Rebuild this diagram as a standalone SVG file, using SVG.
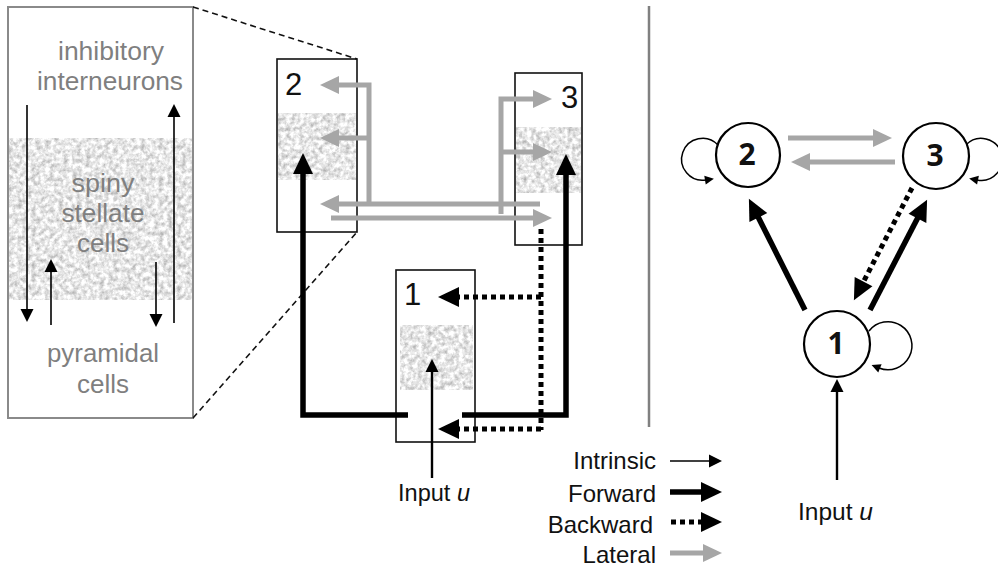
<svg xmlns="http://www.w3.org/2000/svg" width="998" height="572" viewBox="0 0 998 572">
<defs>
<style>
.lbl{font-family:"Liberation Sans",Arial,sans-serif;fill:#7f7f7f;font-size:25px;text-anchor:middle}
.txt{font-family:"Liberation Sans",Arial,sans-serif;fill:#111;font-size:24px}
.num{font-family:"Liberation Sans",Arial,sans-serif;fill:#111;font-size:31px}
.bnum{font-family:"Open Sans","Noto Sans",sans-serif;font-weight:bold;fill:#111;font-size:30px;text-anchor:middle}
.box{fill:none;stroke:#111;stroke-width:1.6}
.band{fill:#e2e2e2;filter:url(#tex)}
.lat{fill:none;stroke:#a6a6a6;stroke-width:5;marker-end:url(#hLat)}
.fwd{fill:none;stroke:#000;stroke-width:5.5;marker-end:url(#hFwd)}
.bwd{fill:none;stroke:#000;stroke-width:5;stroke-dasharray:5,4;marker-end:url(#hFwd)}
.thin{fill:none;stroke:#000;stroke-width:1.6;marker-end:url(#hThin)}
.inp{fill:none;stroke:#000;stroke-width:2.4;marker-end:url(#hThin)}
.loop{fill:none;stroke:#000;stroke-width:1.5;marker-end:url(#hLoop)}
.node{fill:#fff;stroke:#000;stroke-width:2.2}
</style>
<filter id="tex" x="0" y="0" width="100%" height="100%" color-interpolation-filters="sRGB">
<feTurbulence type="fractalNoise" baseFrequency="0.22" numOctaves="4" seed="4" result="n"/>
<feColorMatrix in="n" type="matrix" values="0.55 0 0 0 0.63 0.55 0 0 0 0.63 0.55 0 0 0 0.63 0 0 0 0 1" result="g"/>
<feComposite in="g" in2="SourceGraphic" operator="in"/>
</filter>
<marker id="hLat" markerUnits="userSpaceOnUse" markerWidth="20" markerHeight="18" refX="1" refY="9" orient="auto" overflow="visible"><path d="M0,0 L19,9 L0,18 z" fill="#a6a6a6"/></marker>
<marker id="hFwd" markerUnits="userSpaceOnUse" markerWidth="22" markerHeight="20" refX="1" refY="10" orient="auto" overflow="visible"><path d="M0,0 L21,10 L0,20 z" fill="#000"/></marker>
<marker id="hThin" markerUnits="userSpaceOnUse" markerWidth="14" markerHeight="13" refX="1" refY="6.5" orient="auto" overflow="visible"><path d="M0,0 L13,6.5 L0,13 z" fill="#000"/></marker>
<marker id="hLoop" markerUnits="userSpaceOnUse" markerWidth="10" markerHeight="9" refX="1" refY="4.5" orient="auto" overflow="visible"><path d="M0,0 L9,4.5 L0,9 z" fill="#000"/></marker>
</defs>
<rect width="998" height="572" fill="#fff"/>

<g id="layers-zoom">
<rect class="band" x="9" y="138" width="183" height="162"/>
<rect x="8" y="7" width="185" height="411" fill="none" stroke="#8a8a8a" stroke-width="2"/>
<text class="lbl" x="111" y="60" textLength="106" lengthAdjust="spacingAndGlyphs">inhibitory</text>
<text class="lbl" x="110" y="90" textLength="146" lengthAdjust="spacingAndGlyphs">interneurons</text>
<text class="lbl" x="103" y="192" textLength="63" lengthAdjust="spacingAndGlyphs">spiny</text>
<text class="lbl" x="103" y="222" textLength="83" lengthAdjust="spacingAndGlyphs">stellate</text>
<text class="lbl" x="103" y="252" textLength="52" lengthAdjust="spacingAndGlyphs">cells</text>
<text class="lbl" x="103" y="362" textLength="112" lengthAdjust="spacingAndGlyphs">pyramidal</text>
<text class="lbl" x="103" y="393" textLength="52" lengthAdjust="spacingAndGlyphs">cells</text>
<path class="thin" d="M27,105 V310"/>
<path class="thin" d="M51,325 V271"/>
<path class="thin" d="M156,262 V315"/>
<path class="thin" d="M174,323 V116"/>
<path d="M193,7 L357,59 M193,418 L357,232" fill="none" stroke="#111" stroke-width="1.6" stroke-dasharray="6,4"/>
</g>

<g id="node2-box">
<rect class="band" x="278" y="113" width="78" height="67"/>
<rect class="box" x="277" y="59" width="80" height="173"/>
<text class="num" x="285" y="95">2</text>
</g>
<g id="node3-box">
<rect class="band" x="516" y="127" width="65" height="66"/>
<rect class="box" x="515" y="73" width="67" height="172"/>
<text class="num" x="561" y="108">3</text>
</g>
<g id="node1-box">
<rect class="band" x="400" y="325" width="73" height="65"/>
<rect class="box" x="396" y="270" width="79" height="172"/>
<text class="num" x="404" y="305">1</text>
</g>

<g id="connectors-middle">
<path class="lat" d="M369,203 V85 H338"/>
<path class="lat" d="M369,138 H338"/>
<path class="lat" d="M540,204 H338"/>
<path class="lat" d="M501,214 V99 H534"/>
<path class="lat" d="M501,152 H534"/>
<path class="lat" d="M331,218 H534"/>
<path class="fwd" d="M408,415 H303 V173"/>
<path class="fwd" d="M462,415 H566 V174"/>
<path d="M541,229 V430" fill="none" stroke="#000" stroke-width="5" stroke-dasharray="5,4"/>
<path class="bwd" d="M541,297 H458"/>
<path class="bwd" d="M541,429 H458"/>
<path class="inp" d="M432,478 V371"/>
</g>
<text class="txt" x="398" y="501" font-size="21" textLength="72" lengthAdjust="spacingAndGlyphs">Input <tspan font-style="italic">u</tspan></text>

<g id="legend">
<text class="txt" x="656" y="469" text-anchor="end">Intrinsic</text>
<text class="txt" x="656" y="502" text-anchor="end">Forward</text>
<text class="txt" x="653" y="533" text-anchor="end">Backward</text>
<text class="txt" x="656" y="563" text-anchor="end">Lateral</text>
<path class="thin" d="M670,461 H710"/>
<path class="fwd" d="M670,492 H702"/>
<path class="bwd" d="M671,522 H702"/>
<path class="lat" d="M670,553 H704"/>
</g>

<line x1="649" y1="6" x2="649" y2="427" stroke="#808080" stroke-width="2.5"/>

<g id="connectors-right">
<path class="lat" d="M788,138 H874"/>
<path class="lat" d="M895,162 H809"/>
<path class="fwd" d="M805,310 L757.9,216.6"/>
<path class="fwd" d="M870,310 L917.9,217.5"/>
<path class="bwd" d="M912,188 L863.1,282.5"/>
<path class="loop" d="M718,145 A21,21 0 1 0 706,180"/>
<path class="loop" d="M966,145 A21,21 0 1 1 977,180"/>
<path class="loop" d="M869,331 A24,24 0 1 1 879,368"/>
<path class="inp" d="M837,480 V391"/>
</g>
<g id="node2"><circle class="node" cx="748" cy="155" r="32"/><text class="bnum" x="747" y="165">2</text></g>
<g id="node3"><circle class="node" cx="936" cy="156" r="33"/><text class="bnum" x="935" y="166">3</text></g>
<g id="node1"><circle class="node" cx="837" cy="344" r="33"/><text class="bnum" x="836" y="354">1</text></g>
<text class="txt" x="798" y="520" font-size="21" textLength="75" lengthAdjust="spacingAndGlyphs">Input <tspan font-style="italic">u</tspan></text>
</svg>
